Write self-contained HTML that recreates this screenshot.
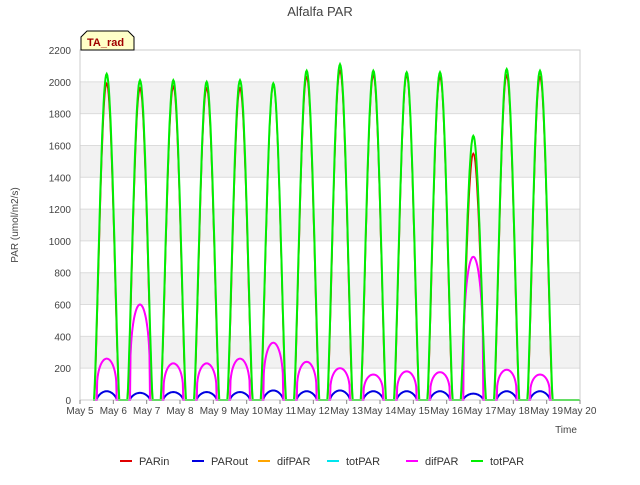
<!DOCTYPE html>
<html><head><meta charset="utf-8"><style>
body{margin:0;background:#fff;font-family:"Liberation Sans",sans-serif}
svg text{font-family:"Liberation Sans",sans-serif}
</style></head><body>
<svg id="c" width="640" height="480">
<text x="320" y="16" text-anchor="middle" font-size="13" fill="#444">Alfalfa PAR</text>
<g id="grid"></g><g id="series"></g><g id="axes"></g>
<text transform="translate(18,225) rotate(-90)" text-anchor="middle" font-size="10" fill="#444">PAR (umol/m2/s)</text>
<text x="566" y="433" text-anchor="middle" font-size="10" fill="#444">Time</text>
<g>
<path d="M81,50 L81,37 L87,31 L128,31 L134,37 L134,50 Z" fill="#ffffc8" stroke="#000" stroke-width="1"/>
<text x="87" y="46" font-size="11" font-weight="bold" fill="#a00000">TA_rad</text></g>
<g id="legend"></g>
</svg>
<script>
const days=["May 5","May 6","May 7","May 8","May 9","May 10","May 11","May 12","May 13","May 14","May 15","May 16","May 17","May 18","May 19","May 20"];
const yTicks=[0,200,400,600,800,1000,1200,1400,1600,1800,2000,2200];
const totPeak=[2050,2010,2010,2000,2010,1990,2070,2110,2070,2060,2060,1660,2080,2070];
const parinPeak=[1990,1960,1970,1960,1960,1980,2030,2070,2040,2040,2030,1550,2040,2030];
const difPeak=[260,600,230,230,260,360,240,200,160,180,175,900,190,160];
const outPeak=[55,45,50,50,50,60,55,60,55,55,55,40,55,55];
const ns="http://www.w3.org/2000/svg";
const X0=80,X1=580,Y0=400,Y1=50;
const x=d=>X0+(d)*(X1-X0)/15, y=v=>Y0-v*(Y0-Y1)/2200;
function el(t,a,p){const e=document.createElementNS(ns,t);for(const k in a)e.setAttribute(k,a[k]);p.appendChild(e);return e;}
const grid=document.getElementById('grid'),axes=document.getElementById('axes'),ser=document.getElementById('series'),leg=document.getElementById('legend');
for(let i=0;i<yTicks.length-1;i++){if(i%2==1){const r=el('rect',{x:X0,y:y(yTicks[i+1]),width:X1-X0,height:y(yTicks[i])-y(yTicks[i+1]),fill:'#f2f2f2'},grid);

}}
yTicks.forEach(v=>{const l=el('line',{x1:X0,x2:X1,y1:y(v),y2:y(v),stroke:'#dcdcdc'},grid);


const t=el('text',{x:X0-9,y:y(v)+4,'text-anchor':'end','font-size':10,fill:'#444'},axes);t.textContent=v;

});
el('rect',{x:X0,y:Y1,width:X1-X0,height:Y0-Y1,fill:'none',stroke:'#ccc'},axes);
days.forEach((d,i)=>{el('line',{x1:x(i),x2:x(i),y1:Y0,y2:Y0+4,stroke:'#888'},axes);
const t=el('text',{x:x(i),y:Y0+14,'text-anchor':'middle','font-size':10,fill:'#444'},axes);t.textContent=d;

});
function path(peaks,pw,span){let s='M'+x(0.4).toFixed(1)+','+y(0).toFixed(1);for(let i=0;i<peaks.length;i++){for(let k=0;k<=40;k++){const f=k/40;const d=i+0.8-span/2+f*span;
const sh=Math.pow(Math.sin(Math.PI*f),pw);
s+='L'+x(d).toFixed(1)+','+y(peaks[i]*sh).toFixed(1);}}
return s+'L'+x(15).toFixed(1)+','+y(0).toFixed(1);}
function line(peaks,c,w,pw,span,name){const p=el('path',{d:path(peaks,pw,span),fill:'none',stroke:c,'stroke-width':w},ser);

}
line(parinPeak,'#e00000',1.5,1.3,0.74,'parin-line');
line(outPeak,'#0000e0',2,0.6,0.6,'parout-line');
line(difPeak,'#ffa500',1.5,0.3,0.6,'difpar-orange-line');
line(totPeak,'#00e5ee',1.5,1.3,0.76,'totpar-cyan-line');
line(difPeak,'#ff00ff',2,0.3,0.6,'difpar-line');
line(totPeak,'#00ee00',2,1.3,0.76,'totpar-line');
const L=[["PARin","#e00000",120],["PARout","#0000e0",192],["difPAR","#ffa500",258],["totPAR","#00e5ee",327],["difPAR","#ff00ff",406],["totPAR","#00ee00",471]];
L.forEach(a=>{const g=el('g',{},leg);


el('line',{x1:a[2],x2:a[2]+12,y1:461,y2:461,stroke:a[1],'stroke-width':2},g);
const t=el('text',{x:a[2]+19,y:465,'font-size':11,fill:'#333'},g);t.textContent=a[0];});
</script>
</body></html>
